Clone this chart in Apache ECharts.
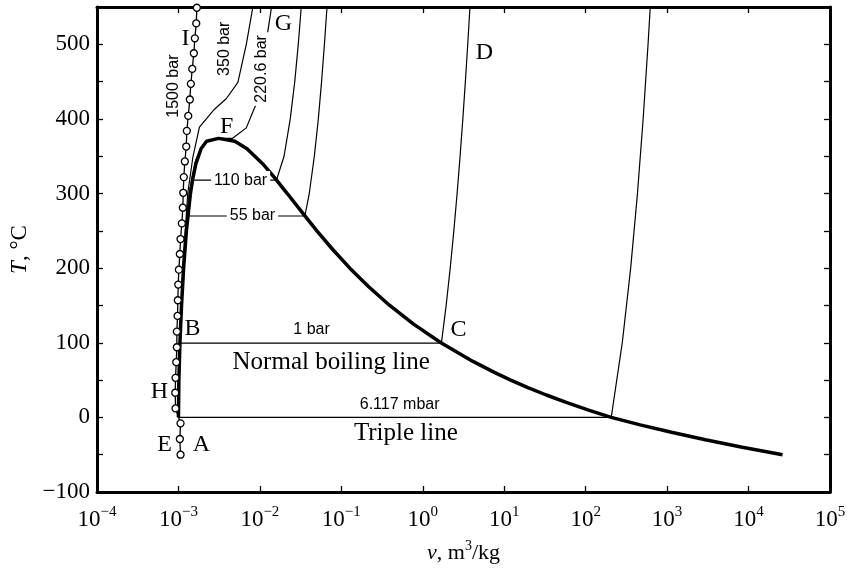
<!DOCTYPE html>
<html><head><meta charset="utf-8">
<script src="https://cdn.jsdelivr.net/npm/echarts@6/dist/echarts.min.js"></script>
<style>html,body{margin:0;padding:0;background:#fff}#c{width:850px;height:569px}</style>
</head><body><div id="c"></div>
<script>
// ---- tick labels ----
const xTickExponents = [-4, -3, -2, -1, 0, 1, 2, 3, 4, 5];
const yTickLabels = [-100, 0, 100, 200, 300, 400, 500];

// ---- saturation dome (v m3/kg, T degC) ----
const satLiquid = [[0.0010002,0.01],[0.001012,50],[0.001043,100],[0.001091,150],[0.001157,200],[0.001252,250],[0.001404,300],[0.001499,320],[0.001638,340],[0.001895,360],[0.002213,370],[0.003106,373.95]];
const satVapor = [[0.003106,373.95],[0.004926,370],[0.006945,360],[0.01080,340],[0.01549,320],[0.02166,300],[0.03284,275],[0.05009,250],[0.0784,225],[0.1272,200],[0.2167,175],[0.3925,150],[0.7706,125],[1.672,100],[4.131,75],[7.667,60],[12.03,50],[19.52,40],[32.88,30],[57.76,20],[106.3,10],[206.0,0.01]];
const subVapor = [[206.0,0.01],[467,-10],[1131,-20],[2953,-30],[8380,-40],[26140,-50]];

// ---- isobars ----
const iso1bar = [[0.001043,99.61],[1.694,99.61],[1.936,150],[2.172,200],[2.406,250],[2.639,300],[2.871,350],[3.103,400],[3.334,450],[3.565,500],[3.797,550]];
const iso6mbar = [[0.0010002,0.01],[206.0,0.01],[281.5,100],[357.0,200],[432.4,300],[507.9,400],[583.3,500],[621.0,550]];
const iso55bar = [[0.001302,269.9],[0.03564,269.9],[0.0404,300],[0.0466,350],[0.0522,400],[0.0572,450],[0.0620,500],[0.0667,550]];
const iso110bar = [[0.001489,318.1],[0.01599,318.1],[0.0198,350],[0.0236,400],[0.0268,450],[0.0296,500],[0.0322,550]];
const iso220bar = [[0.0010,0.01],[0.00104,100],[0.00114,200],[0.00135,300],[0.00163,345],[0.0021,368],[0.003106,373.95],[0.00462,374],[0.00681,388],[0.0086,415],[0.00944,424],[0.0121,507],[0.0139,550]];
const iso350bar = [[0.000995,0.01],[0.00103,100],[0.00113,200],[0.00130,300],[0.00150,348],[0.00181,389],[0.00277,413],[0.00386,427],[0.00537,449],[0.00681,500],[0.0082,550]];
const iso1500bar = [[0.001061,-50],[0.001040,-29],[0.001061,-8],[0.000921,12],[0.000913,33],[0.000921,53],[0.000940,74],[0.000956,94],[0.000956,115],[0.000975,136],[0.000983,157],[0.000994,178],[0.001012,198],[0.001040,219],[0.001061,239],[0.001101,260],[0.001132,281],[0.001145,301],[0.001164,322],[0.001199,343],[0.001247,363],[0.001268,384],[0.001319,404],[0.001380,426],[0.001420,447],[0.001477,467],[0.001546,488],[0.001590,508],[0.001654,528],[0.001683,549]];

// ---- annotation texts (v, T, text) ----
const pointLetters = [[0.00122,508,'I'],[0.0039,390,'F'],[0.0195,527,'G'],[5.7,489,'D'],[2.75,118,'C'],[0.00149,119,'B'],[0.000586,34,'H'],[0.000675,-37,'E'],[0.00192,-37,'A']];
const regionNames = [[0.075,74,'Normal boiling line'],[0.62,-22,'Triple line']];
const pressureNotes = [[0.0431,118,'1 bar'],[0.52,17,'6.117 mbar']];
const pressureTags = [[0.0081,270,'55 bar'],[0.0058,318,'110 bar']];
const pressureVertical = [[0.0105,467,'220.6 bar'],[0.00368,494,'350 bar'],[0.00088,444,'1500 bar']];

const SERIF = 'Liberation Serif', SANS = 'Liberation Sans';
const chart = echarts.init(document.getElementById('c'), null, {renderer:'canvas'});

function curve(data, width, z) {
  return {type:'line', data, symbol:'none', showSymbol:false, animation:false, silent:true,
    lineStyle:{color:'#000', width}, z};
}
function textSeries(data, font, size, extra, z) {
  return {type:'scatter', data, symbolSize:1, itemStyle:{color:'transparent', opacity:1}, animation:false, silent:true, z: z || 10,
    label:Object.assign({show:true, position:'inside', formatter:p=>p.data[2], fontFamily:font, fontSize:size, color:'#000', opacity:1, align:'center', verticalAlign:'middle'}, extra || {})};
}
const supStyle = {
  b:{fontFamily:SERIF, fontSize:23, lineHeight:30, color:'#000'},
  s:{fontFamily:SERIF, fontSize:15, lineHeight:16, verticalAlign:'top', color:'#000'}
};
const axisCommon = {
  axisLine:{show:true, onZero:false, lineStyle:{color:'#000', width:3}},
  axisTick:{show:true, inside:true, length:6, lineStyle:{color:'#000', width:1.3}},
  splitLine:{show:false}
};

chart.setOption({
  animation:false,
  grid:{left:97, right:20, top:7, bottom:77, containLabel:false, outerBoundsMode:'none'},
  xAxis:[
    Object.assign({type:'log', logBase:10, min:1e-4, max:1e5, position:'bottom',
      name:'{i|v}{n|, m}{s|3}{n|/kg}', nameLocation:'middle', nameGap:47,
      nameTextStyle:{rich:{i:{fontFamily:SERIF, fontStyle:'italic', fontSize:22, lineHeight:28, color:'#000'}, n:{fontFamily:SERIF, fontSize:22, lineHeight:28, color:'#000'}, s:{fontFamily:SERIF, fontSize:14, lineHeight:16, verticalAlign:'top', color:'#000'}}},
      axisLabel:{margin:13, formatter:function(v){const e=Math.round(Math.log10(v)); if(xTickExponents.indexOf(e)<0) return ''; return '{b|10}{s|'+(e<0?'\u2212'+(-e):e)+'}';}, rich:supStyle}
    }, axisCommon),
    Object.assign({type:'log', logBase:10, min:1e-4, max:1e5, position:'top', axisLabel:{show:false}}, axisCommon)
  ],
  yAxis:[
    Object.assign({type:'value', min:-100, max:550, interval:50, position:'left',
      name:'{i|T}{n|, \u00B0C}', nameLocation:'middle', nameRotate:90, nameGap:64,
      nameTextStyle:{rich:{i:{fontFamily:SERIF, fontStyle:'italic', fontSize:23, color:'#000'}, n:{fontFamily:SERIF, fontSize:23, color:'#000'}}},
      axisLabel:{margin:7, fontFamily:SERIF, fontSize:23, color:'#000', formatter:function(v){if(yTickLabels.indexOf(v)<0) return ''; return v<0?'\u2212'+(-v):String(v);}}
    }, axisCommon),
    Object.assign({type:'value', min:-100, max:550, interval:50, position:'right', axisLabel:{show:false}}, axisCommon)
  ],
  series:[
    curve(iso6mbar, 1.2, 2),
    curve(iso1bar, 1.2, 2),
    curve(iso55bar, 1.2, 2),
    curve(iso110bar, 1.2, 2),
    curve(iso220bar, 1.2, 2),
    curve(iso350bar, 1.2, 2),
    curve(satLiquid.concat(satVapor.slice(1), subVapor.slice(1)), 3.5, 3),
    {type:'line', data:iso1500bar, symbol:'circle', symbolSize:7, showSymbol:true, showAllSymbol:true, animation:false, silent:true,
      lineStyle:{color:'#000', width:1.3}, itemStyle:{color:'#fff', borderColor:'#000', borderWidth:1.3}, z:4},
    textSeries(pointLetters, SERIF, 24),
    textSeries(regionNames, SERIF, 25),
    textSeries(pressureNotes, SANS, 16),
    textSeries(pressureTags, SANS, 16, {backgroundColor:'#fff', padding:[1,3]}),
    textSeries(pressureVertical, SANS, 16, {rotate:90, backgroundColor:'#fff', padding:[0,3]})
  ]
});
</script></body></html>
